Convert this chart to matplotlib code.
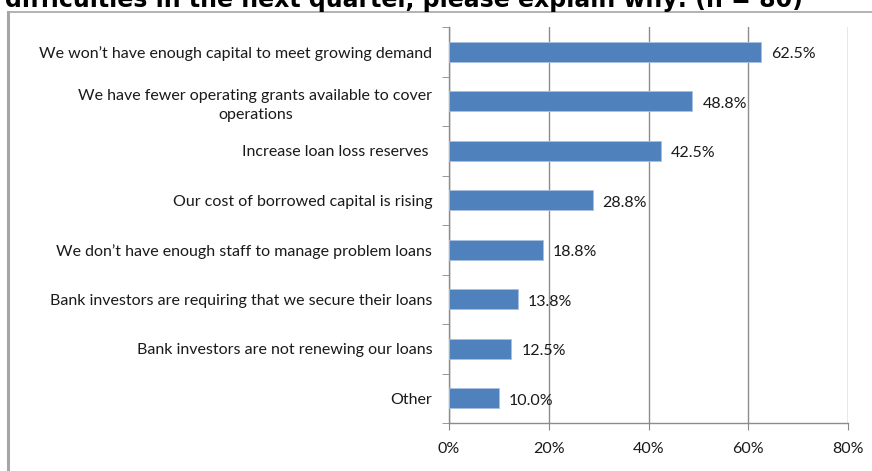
import matplotlib
matplotlib.use("Agg")
import matplotlib.pyplot as plt
from matplotlib.lines import Line2D

categories = [
    "We won\u2019t have enough capital to meet growing demand",
    "We have fewer operating grants available to cover\noperations",
    "Increase loan loss reserves ",
    "Our cost of borrowed capital is rising",
    "We don\u2019t have enough staff to manage problem loans",
    "Bank investors are requiring that we secure their loans",
    "Bank investors are not renewing our loans",
    "Other",
]
values = [62.5, 48.8, 42.5, 28.8, 18.8, 13.8, 12.5, 10.0]
x_ticks = [0, 20, 40, 60, 80]
title = "difficulties in the next quarter, please explain why: (n = 80)"

W, H = 872, 471
fig = plt.figure(figsize=(W / 100, H / 100), dpi=100)
plt.rcParams["font.family"] = ["Lato", "DejaVu Sans"]

# heading runs off the top edge
fig.text(5 / W, 1 - 6.5 / H, title, fontsize=17, fontweight="bold",
         family="DejaVu Sans", ha="left", va="baseline", color="black")

# chart frame (left and top edges)
frame_col = "#a6a6a6"
fig.add_artist(Line2D([7.5 / W, 7.5 / W], [0, 1 - 12 / H], transform=fig.transFigure,
                      color=frame_col, lw=2.2))
fig.add_artist(Line2D([7.5 / W, 1], [1 - 12 / H, 1 - 12 / H], transform=fig.transFigure,
                      color=frame_col, lw=1.2))

left, right = 449, 848
top, bottom = 27, 423
ax = fig.add_axes([left / W, 1 - bottom / H, (right - left) / W, (bottom - top) / H])

n = len(categories)
ypos = list(range(n))
ax.barh(ypos, values, height=0.4, color="#4F81BD", edgecolor="#a9c0e0",
        linewidth=0.6, zorder=3)
ax.set_ylim(n - 0.5, -0.5)
ax.set_xlim(0, 80)

fs = 11.5
for y, v in zip(ypos, values):
    ax.text(v + 2.0, y + 0.05, f"{v:.1f}%", va="center", ha="left", fontsize=fs,
            color="#1a1a1a", zorder=4)

ax.set_xticks(x_ticks)
ax.set_xticklabels([f"{t}%" for t in x_ticks], fontsize=fs, color="#1a1a1a")
ax.set_yticks(ypos)
ax.set_yticklabels(categories, fontsize=fs, color="#1a1a1a", linespacing=1.45)
for lbl in ax.get_yticklabels():
    lbl.set_multialignment("center")
ax.tick_params(axis="y", length=0, pad=12)
ax.tick_params(axis="x", length=5, color="#888888", pad=9)

# small tick marks between categories on the value axis
ax.set_yticks([i + 0.5 for i in range(-1, n)], minor=True)
ax.tick_params(axis="y", which="minor", length=5, color="#888888")

ax.grid(axis="x", color="#8c8c8c", linewidth=1.0, zorder=0)
for s in ["top", "right"]:
    ax.spines[s].set_visible(False)
for s in ["left", "bottom"]:
    ax.spines[s].set_color("#8c8c8c")
    ax.spines[s].set_linewidth(1.0)

fig.savefig("out.png", dpi=100)
